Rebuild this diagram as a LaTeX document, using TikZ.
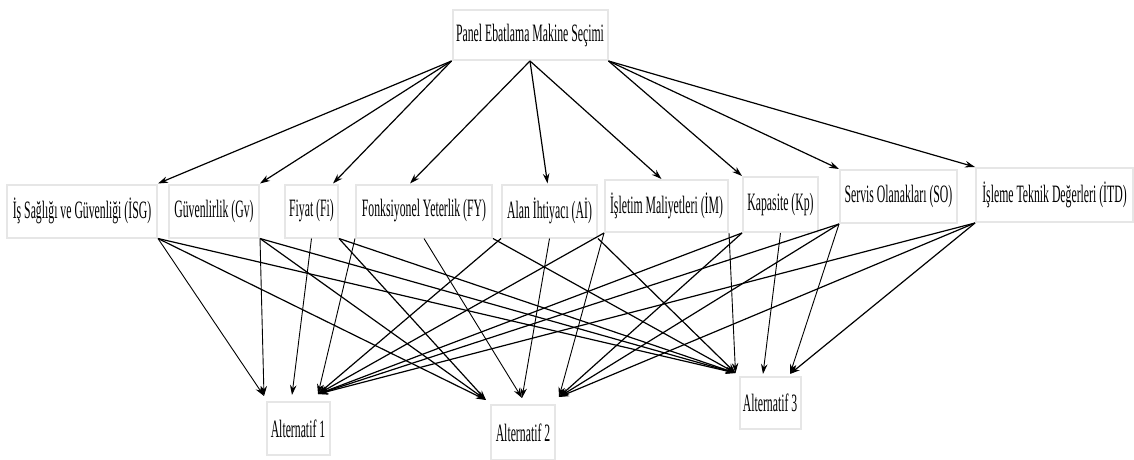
\documentclass[tikz,border=0pt]{standalone}
\usepackage{fontspec}
\setmainfont{Liberation Serif}
\usepackage{graphicx}
\usetikzlibrary{arrows.meta,calc}
\newcommand{\lbl}[1]{\scalebox{0.47}[1]{#1}}
\definecolor{boxline}{HTML}{E6E6E6}
\tikzset{
  box/.style={draw=boxline, line width=2pt, fill=white, inner sep=0pt,
    font=\fontsize{25}{30}\selectfont, text=black},
  edge/.style={draw=black, line width=1.2pt, -{Stealth[length=10pt,width=6.5pt]}},
  thin edge/.style={edge, line width=0.9pt}
}
\begin{document}
\begin{tikzpicture}[x=1pt,y=1pt]
\useasboundingbox (0,0) rectangle (1134,-460);
% nodes
\node[box, minimum width=155pt, minimum height=50pt] (top) at (530,-35) {\lbl{Panel Ebatlama Makine Seçimi}};
\node[box, minimum width=150pt, minimum height=53pt] (isg) at (82,-211) {\lbl{İş Sağlığı ve Güvenliği (İSG)}};
\node[box, minimum width=90pt, minimum height=53pt] (gv) at (214,-211) {\lbl{Güvenlirlik (Gv)}};
\node[box, minimum width=53pt, minimum height=53pt] (fi) at (311.5,-211) {\lbl{Fiyat (Fi)}};
\node[box, minimum width=136pt, minimum height=53pt] (fy) at (424,-211) {\lbl{Fonksiyonel Yeterlik (FY)}};
\node[box, minimum width=95pt, minimum height=53pt] (ai) at (549.5,-211) {\lbl{Alan İhtiyacı (Aİ)}};
\node[box, minimum width=123pt, minimum height=52pt] (im) at (666.5,-206) {\lbl{İşletim Maliyetleri (İM)}};
\node[box, minimum width=75pt, minimum height=55pt] (kp) at (780.5,-204.5) {\lbl{Kapasite (Kp)}};
\node[box, minimum width=117pt, minimum height=53pt] (so) at (898.5,-196.5) {\lbl{Servis Olanakları (SO)}};
\node[box, minimum width=157pt, minimum height=54pt] (itd) at (1054.5,-195) {\lbl{İşleme Teknik Değerleri (İTD)}};
\node[box, minimum width=63pt, minimum height=53pt] (alt1) at (298,-428.5) {\lbl{Alternatif 1}};
\node[box, minimum width=64pt, minimum height=55pt] (alt2) at (523,-432.5) {\lbl{Alternatif 2}};
\node[box, minimum width=61pt, minimum height=52pt] (alt3) at (770,-403) {\lbl{Alternatif 3}};
% ports on the alternatives
\coordinate (a1L) at ([shift={(-1.5pt,5pt)}]alt1.north west);
\coordinate (a1M) at ([shift={(-6pt,6pt)}]alt1.north);
\coordinate (a1R) at ([shift={(20pt,7pt)}]alt1.north);
\coordinate (a2L) at ([shift={(-4pt,4pt)}]alt2.north west);
\coordinate (a2M) at ([shift={(-1pt,6pt)}]alt2.north);
\coordinate (a2R) at ([shift={(3pt,7pt)}]alt2.north east);
\coordinate (a3L) at ([shift={(-3pt,3pt)}]alt3.north west);
\coordinate (a3M) at ([shift={(-7pt,2pt)}]alt3.north);
\coordinate (a3R) at ([shift={(20pt,2pt)}]alt3.north);
% goal to criteria
\draw[edge] (top.south west) -- (isg.north east);
\draw[edge] (top.south west) -- (gv.north east);
\draw[edge] (top.south west) -- ([xshift=-6pt]fi.north east);
\draw[edge] (top.south) -- ([xshift=-14pt]fy.north);
\draw[edge] (top.south) -- ([xshift=-2pt]ai.north);
\draw[edge] (top.south) -- ([xshift=-5pt]im.north);
\draw[edge] (top.south east) -- (kp.north west);
\draw[edge] (top.south east) -- (so.north west);
\draw[edge] (top.south east) -- (itd.north west);
% criteria to alternatives
\draw[thin edge] (isg.south east) -- (a1L);
\draw[edge] (isg.south east) -- (a2L);
\draw[edge] (isg.south east) -- (a3L);
\draw[thin edge] (gv.south east) -- (a1L);
\draw[edge] (gv.south east) -- (a2L);
\draw[edge] (gv.south east) -- (a3L);
\draw[thin edge] (fi.south) -- (a1M);
\draw[edge] (fi.south east) -- (a2L);
\draw[edge] (fi.south east) -- (a3L);
\draw[thin edge] (fy.south west) -- (a1R);
\draw[thin edge] (fy.south) -- (a2M);
\draw[edge] (fy.south east) -- (a3L);
\draw[edge] (ai.south west) -- (a1R);
\draw[thin edge] (ai.south) -- (a2M);
\draw[edge] (ai.south east) -- (a3L);
\draw[edge] (im.south west) -- (a1R);
\draw[thin edge] (im.south west) -- (a2R);
\draw[thin edge] (im.south east) -- (a3L);
\draw[edge] (kp.south west) -- (a1R);
\draw[edge] (kp.south west) -- (a2R);
\draw[thin edge] (kp.south) -- (a3M);
\draw[edge] (so.south west) -- (a1R);
\draw[edge] (so.south west) -- (a2R);
\draw[thin edge] (so.south west) -- (a3R);
\draw[edge] (itd.south west) -- (a1R);
\draw[edge] (itd.south west) -- (a2R);
\draw[edge] (itd.south west) -- (a3R);
\end{tikzpicture}
\end{document}
